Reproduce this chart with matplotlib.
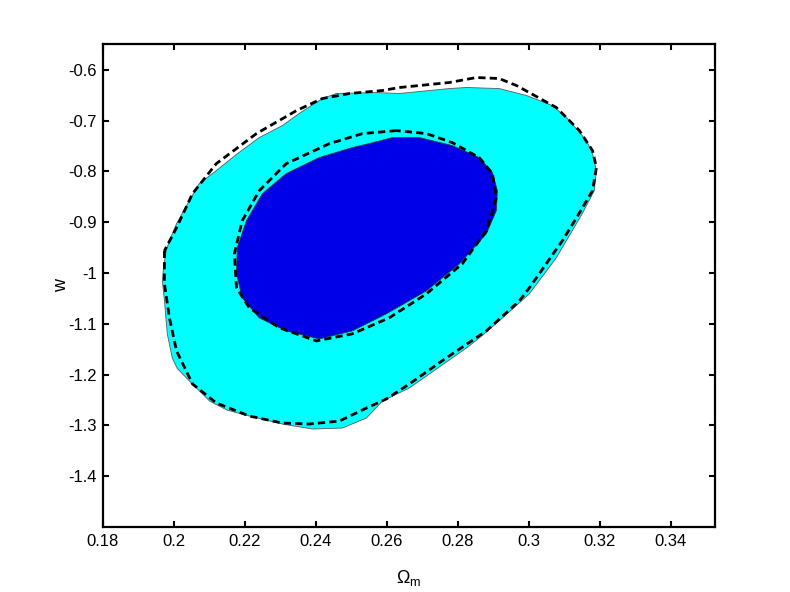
import matplotlib
matplotlib.use("Agg")
from matplotlib import pyplot as plt

plt.rcParams['font.family'] = ['Liberation Sans', 'DejaVu Sans']
plt.rcParams['mathtext.fontset'] = 'custom'
plt.rcParams['mathtext.rm'] = 'Liberation Sans'
plt.rcParams['mathtext.it'] = 'Liberation Sans'
plt.rcParams['axes.unicode_minus'] = False

# outer (95%) filled contour
outer_x = [0.2458, 0.2571, 0.2636, 0.2777, 0.2825, 0.2917, 0.2994, 0.3067, 0.3107, 0.3163,
           0.3180, 0.3191, 0.3185, 0.3151, 0.3078, 0.3002, 0.2917, 0.2861, 0.2825, 0.2664,
           0.2588, 0.2543, 0.2475, 0.2391, 0.2306, 0.2213, 0.2150, 0.2101, 0.2036, 0.2010, 0.1996, 0.1982,
           0.1974, 0.1968, 0.1972, 0.1979, 0.1988, 0.2008, 0.2044, 0.2072, 0.2120, 0.2180, 0.2241, 0.2306, 0.2360, 0.2419]
outer_y = [-0.6467, -0.6448, -0.6467, -0.6369, -0.6349, -0.6369, -0.6507, -0.6704, -0.6941, -0.7394,
           -0.7650, -0.7986, -0.8380, -0.8835, -0.9702, -1.0412, -1.0945, -1.1280, -1.1477, -1.2265,
           -1.2522, -1.2857, -1.3054, -1.3073, -1.2975, -1.2817, -1.2700, -1.2521, -1.2068, -1.1880, -1.1673, -1.1200,
           -1.0549, -1.0155, -0.9850, -0.9563, -0.9366, -0.9031, -0.8577, -0.8242, -0.7986, -0.7650, -0.7335, -0.7099, -0.6830, -0.6566]

# inner (68%) filled contour
inner_x = [0.2617, 0.2692, 0.2785, 0.2861, 0.2898, 0.2912, 0.2909, 0.2881, 0.2805, 0.2712,
           0.2599, 0.2503, 0.2410, 0.2317, 0.2241, 0.2193, 0.2177, 0.2179, 0.2205, 0.2250,
           0.2317, 0.2410, 0.2503, 0.2551]
inner_y = [-0.7335, -0.7335, -0.7493, -0.7729, -0.8025, -0.8380, -0.8774, -0.9228, -0.9820, -1.0352,
           -1.0806, -1.1141, -1.1299, -1.1141, -1.0884, -1.0490, -1.0017, -0.9504, -0.8971, -0.8439,
           -0.8044, -0.7729, -0.7532, -0.7453]

# comparison contours (dashed)
dash_outer_x = [0.1974, 0.1974, 0.1988, 0.2008, 0.2053, 0.2120, 0.2213, 0.2306, 0.2382, 0.2467,
                0.2543, 0.2599, 0.2664, 0.2768, 0.2881, 0.2974, 0.3002, 0.3095, 0.3135, 0.3180,
                0.3191, 0.3180, 0.3143, 0.3078, 0.2966, 0.2917, 0.2853, 0.2777, 0.2636, 0.2588,
                0.2495, 0.2419, 0.2346, 0.2233, 0.2120, 0.2053, 0.2008]
dash_outer_y = [-0.9563, -1.0214, -1.0884, -1.1535, -1.2186, -1.2560, -1.2817, -1.2955, -1.2975, -1.2916,
                -1.2660, -1.2482, -1.2186, -1.1673, -1.1141, -1.0549, -1.0293, -0.9366, -0.8912, -0.8380,
                -0.7927, -0.7591, -0.7197, -0.6743, -0.6310, -0.6172, -0.6152, -0.6250, -0.6349, -0.6408,
                -0.6467, -0.6566, -0.6803, -0.7257, -0.7848, -0.8439, -0.9110]

dash_inner_x = [0.2628, 0.2532, 0.2439, 0.2317, 0.2241, 0.2193, 0.2171, 0.2177, 0.2213, 0.2298,
                0.2402, 0.2503, 0.2607, 0.2712, 0.2813, 0.2881, 0.2909, 0.2898, 0.2861, 0.2785, 0.2712]
dash_inner_y = [-0.7197, -0.7256, -0.7453, -0.7848, -0.8380, -0.8971, -0.9622, -1.0293, -1.0687, -1.1082,
                -1.1338, -1.1200, -1.0884, -1.0412, -0.9820, -0.9169, -0.8518, -0.8044, -0.7729, -0.7434, -0.7256]

xticks = [0.18, 0.2, 0.22, 0.24, 0.26, 0.28, 0.3, 0.32, 0.34]
xticklabels = ['0.18', '0.2', '0.22', '0.24', '0.26', '0.28', '0.3', '0.32', '0.34']
yticks = [-1.4, -1.3, -1.2, -1.1, -1.0, -0.9, -0.8, -0.7, -0.6]
yticklabels = ['-1.4', '-1.3', '-1.2', '-1.1', '-1', '-0.9', '-0.8', '-0.7', '-0.6']

fig = plt.figure(figsize=(7.9, 5.92), dpi=100)
ax = fig.add_axes([0.13, 0.11, 0.775, 0.815])

ax.fill(outer_x, outer_y, facecolor='#00ffff', edgecolor='0.35', linewidth=0.6)
ax.fill(inner_x, inner_y, facecolor='#0000e8', edgecolor='0.2', linewidth=0.6)

ax.plot(dash_outer_x + dash_outer_x[:1], dash_outer_y + dash_outer_y[:1],
        color='black', linewidth=2.0, dashes=(2.6, 1.5))
ax.plot(dash_inner_x + dash_inner_x[:1], dash_inner_y + dash_inner_y[:1],
        color='black', linewidth=2.0, dashes=(2.6, 1.5))

ax.set_xlim(0.18, 0.3525)
ax.set_ylim(-1.5, -0.55)
ax.set_xticks(xticks)
ax.set_xticklabels(xticklabels)
ax.set_yticks(yticks)
ax.set_yticklabels(yticklabels)
ax.tick_params(direction='in', length=4, width=1.5, top=True, right=True, labelsize=12)
ax.tick_params(axis='x', pad=5)
ax.tick_params(axis='y', pad=4)
for s in ax.spines.values():
    s.set_linewidth(1.6)

ax.set_xlabel(r'$\Omega_\mathrm{m}$', fontsize=13, labelpad=14)
ax.set_ylabel('w', fontsize=13, labelpad=-1)

fig.savefig('out.png', dpi=100, facecolor='white')
